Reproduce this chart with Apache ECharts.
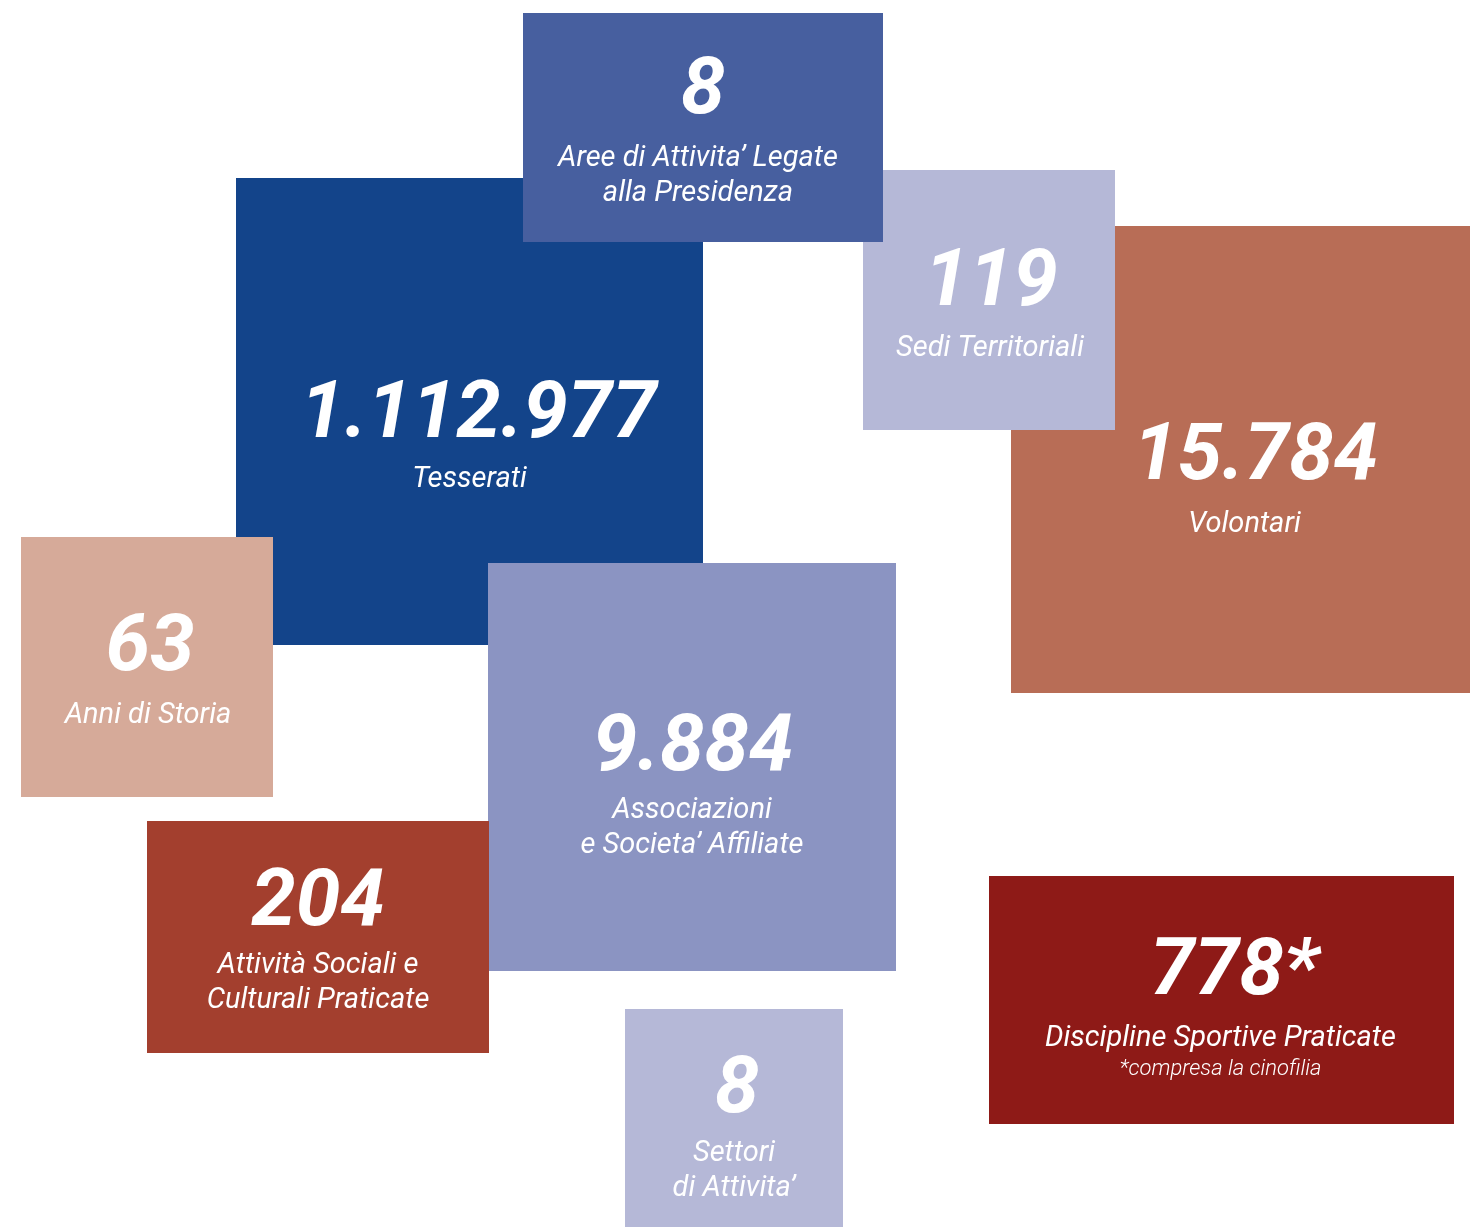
<!DOCTYPE html>
<html>
<head>
<meta charset="utf-8">
<title>Numeri</title>
<script src="https://cdn.jsdelivr.net/npm/echarts@6.0.0/dist/echarts.min.js"></script>
<style>
  html, body { margin: 0; padding: 0; background: #fff; }
  #main { width: 1470px; height: 1227px; }
</style>
</head>
<body>
<div id="main"></div>
<script>
// figures shown in the boxes (drawing order = stacking order)
const values = ['1.112.977', '15.784', '119', '8', '63', '9.884', '204', '778*', '8'];
const labels = [
  ['Tesserati'],
  ['Volontari'],
  ['Sedi Territoriali'],
  ['Aree di Attivita\u2019 Legate', 'alla Presidenza'],
  ['Anni di Storia'],
  ['Associazioni', 'e Societa\u2019 Affiliate'],
  ['Attività Sociali e', 'Culturali Praticate'],
  ['Discipline Sportive Praticate'],
  ['Settori', 'di Attivita\u2019']
];
const notes = ['', '', '', '', '', '', '', '*compresa la cinofilia', ''];
// box extents on the hidden 0..1470 / 0..1227 axes
const boxX0 = [236, 1011, 863, 523, 21, 488, 147, 989, 625];
const boxX1 = [703, 1470, 1115, 883, 273, 896, 489, 1454, 843];
const boxY0 = [178, 226, 170, 13, 537, 563, 821, 876, 1009];
const boxY1 = [645, 693, 430, 242, 797, 971, 1053, 1124, 1227];

const colors = ['#13448a', '#b86d56', '#b5b8d7', '#475f9f', '#d6aa99', '#8b94c2', '#a33f2e', '#8e1a17', '#b5b8d7'];
// text placement inside each box: baseline of the figure, small nudges
const numBase = [437, 479, 305, 113, 670, 770, 925, 994, 1112];
const numDx = [9, 15, 2, 0, 3, 1, 0, 13, 3];
const labDx = [0, 4, 1, -5, 1, 0, 0, -1, 0];
const labDy = [0, 3, 1, 3, 3, -2, -2, 2, -1];

const chart = echarts.init(document.getElementById('main'));

function txt(s, x, y, size, weight) {
  return {
    type: 'text',
    style: {
      text: s, x: x, y: y, fill: '#fff',
      fontFamily: 'Roboto', fontStyle: 'italic', fontWeight: weight, fontSize: size,
      align: 'center', verticalAlign: 'top'
    }
  };
}

function renderBox(params, api) {
  const i = params.dataIndex;
  const p0 = api.coord([boxX0[i], boxY0[i]]);
  const p1 = api.coord([boxX1[i], boxY1[i]]);
  const cx = (p0[0] + p1[0]) / 2;
  const nb = api.coord([0, numBase[i]])[1];
  const ly = nb + 28 + labDy[i];
  const children = [{
    type: 'rect',
    shape: { x: p0[0], y: p0[1], width: p1[0] - p0[0], height: p1[1] - p0[1] },
    style: { fill: colors[i] }
  }];
  children.push(txt(values[i], cx + numDx[i], nb - 60, 80, 700));
  labels[i].forEach(function (line, k) {
    children.push(txt(line, cx + labDx[i], ly + k * 35, 29, 400));
  });
  if (notes[i]) {
    children.push(txt(notes[i], cx + labDx[i], ly + 34, 22, 300));
  }
  return { type: 'group', children: children };
}

chart.setOption({
  animation: false,
  grid: { left: 0, right: 0, top: 0, bottom: 0 },
  xAxis: { type: 'value', min: 0, max: 1470, show: false },
  yAxis: { type: 'value', min: 0, max: 1227, inverse: true, show: false },
  series: [{
    type: 'custom',
    renderItem: renderBox,
    data: values.map(function (v, i) { return [boxX0[i], boxY0[i]]; })
  }]
});
</script>
</body>
</html>
